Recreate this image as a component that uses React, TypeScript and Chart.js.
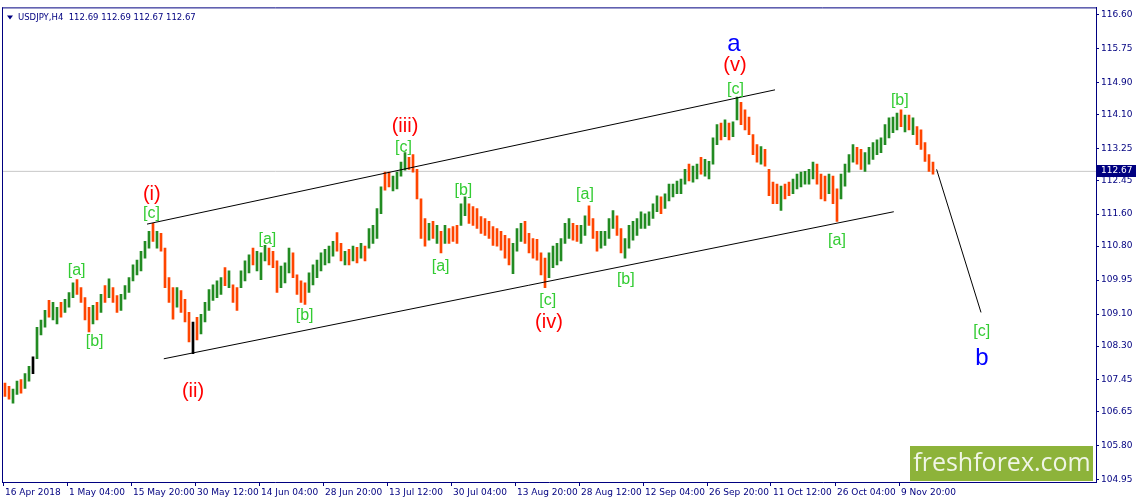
import React, { useEffect, useRef } from 'react';
import { Chart, registerables } from 'chart.js';

Chart.register(...registerables);

// ---- data -------------------------------------------------------------
const TITLE = 'USDJPY,H4  112.69 112.69 112.67 112.67';
const LAST_PRICE = 112.67;

// Each bar below aggregates 4 H4 candles
const HIGHS = [
  107.37, 107.29, 107.22, 107.42, 107.46, 107.61, 107.79, 108.03, 108.77, 108.95,
  109.19, 109.44, 109.39, 109.27, 109.39, 109.47, 109.64, 109.88, 109.96, 109.76,
  109.51, 109.27, 109.32, 109.39, 109.59, 109.81, 109.98, 109.76, 109.56, 109.59,
  109.81, 110.01, 110.33, 110.45, 110.67, 110.92, 111.17, 111.37, 111.17, 111.12,
  110.75, 110.01, 109.76, 109.76, 109.69, 109.47, 109.14, 108.90, 109.02, 109.09,
  109.39, 109.71, 109.83, 109.93, 110.01, 110.26, 110.18, 109.83, 109.76, 110.18,
  110.43, 110.58, 110.75, 110.67, 110.63, 110.82, 110.75, 110.67, 110.43, 110.30,
  110.38, 110.75, 110.63, 110.08, 109.93, 109.88, 110.13, 110.33, 110.45, 110.63,
  110.72, 110.80, 110.92, 111.14, 110.87, 110.67, 110.72, 110.80, 110.77, 110.87,
  110.80, 111.24, 111.32, 111.74, 112.28, 112.65, 112.65, 112.55, 112.65, 112.90,
  113.14, 113.02, 113.09, 112.72, 111.98, 111.49, 111.37, 111.42, 111.32, 111.17,
  111.32, 111.24, 111.29, 111.32, 111.86, 112.03, 111.86, 111.79, 111.74, 111.54,
  111.49, 111.42, 111.29, 111.24, 111.17, 111.07, 110.99, 110.87, 111.24, 111.37,
  111.42, 111.12, 110.99, 110.97, 110.63, 110.50, 110.63, 110.80, 110.87, 110.99,
  111.37, 111.49, 111.37, 111.32, 111.32, 111.56, 111.81, 111.49, 111.17, 111.17,
  111.17, 111.49, 111.69, 111.56, 111.24, 110.99, 111.32, 111.42, 111.49, 111.66,
  111.61, 111.66, 111.86, 112.06, 112.03, 112.11, 112.35, 112.35, 112.43, 112.48,
  112.72, 112.85, 112.80, 112.85, 113.02, 112.97, 112.92, 113.51, 113.84, 113.88,
  113.96, 113.88, 113.91, 114.53, 114.40, 114.21, 114.03, 113.59, 113.34, 113.29,
  113.22, 112.72, 112.40, 112.35, 112.30, 112.35, 112.40, 112.48, 112.60, 112.65,
  112.67, 112.72, 112.90, 112.85, 112.60, 112.55, 112.60, 112.55, 112.23, 112.60,
  112.85, 113.09, 113.34, 113.27, 113.22, 113.14, 113.27, 113.39, 113.46, 113.51,
  113.84, 114.01, 114.03, 114.13, 114.21, 114.08, 114.08, 114.01, 113.79, 113.71,
  113.39, 113.09, 112.90,
];

const LOWS = [
  107.04, 106.97, 106.87, 107.09, 107.12, 107.24, 107.42, 107.61, 107.98, 108.58,
  108.77, 109.02, 108.95, 108.85, 109.02, 109.14, 109.27, 109.51, 109.59, 109.39,
  108.95, 108.65, 108.85, 108.95, 109.14, 109.39, 109.51, 109.39, 109.14, 109.19,
  109.47, 109.64, 109.93, 110.08, 110.18, 110.50, 110.75, 110.92, 110.75, 110.67,
  109.76, 109.39, 108.97, 109.27, 109.14, 108.90, 108.40, 108.11, 108.45, 108.60,
  108.90, 109.19, 109.44, 109.51, 109.59, 109.81, 109.76, 109.39, 109.19, 109.76,
  109.93, 110.13, 110.33, 110.18, 109.96, 110.43, 110.33, 110.26, 109.64, 109.76,
  109.88, 110.13, 110.01, 109.59, 109.39, 109.34, 109.64, 109.83, 110.01, 110.18,
  110.33, 110.38, 110.55, 110.67, 110.43, 110.33, 110.33, 110.43, 110.38, 110.50,
  110.43, 110.75, 110.87, 110.99, 111.61, 112.20, 112.28, 112.18, 112.23, 112.55,
  112.70, 112.72, 112.65, 111.98, 110.99, 110.80, 110.95, 110.99, 110.87, 110.63,
  110.87, 110.87, 110.92, 110.87, 111.32, 111.56, 111.37, 111.32, 111.24, 111.12,
  111.07, 110.99, 110.82, 110.80, 110.70, 110.50, 110.33, 110.11, 110.67, 110.92,
  110.87, 110.63, 110.50, 110.45, 110.08, 109.76, 110.01, 110.26, 110.33, 110.43,
  110.87, 110.99, 110.95, 110.92, 110.87, 111.07, 111.32, 110.99, 110.67, 110.75,
  110.82, 110.99, 111.24, 111.07, 110.63, 110.50, 110.75, 110.95, 111.07, 111.24,
  111.24, 111.32, 111.49, 111.66, 111.61, 111.74, 111.93, 112.03, 112.11, 112.11,
  112.35, 112.43, 112.40, 112.48, 112.60, 112.55, 112.48, 112.85, 113.34, 113.46,
  113.54, 113.46, 113.54, 113.96, 113.84, 113.71, 113.59, 113.09, 112.90, 112.85,
  112.80, 112.06, 111.86, 111.86, 111.69, 111.98, 112.06, 112.11, 112.23, 112.28,
  112.35, 112.35, 112.48, 112.35, 111.98, 111.93, 112.11, 111.86, 111.42, 111.98,
  112.30, 112.65, 112.90, 112.85, 112.72, 112.67, 112.85, 112.97, 113.09, 113.14,
  113.34, 113.51, 113.64, 113.71, 113.79, 113.66, 113.71, 113.59, 113.34, 113.22,
  112.92, 112.67, 112.60,
];

// u = bullish, d = bearish, n = doji
const DIRECTIONS = [
  'dduuduunuu', 'uduuduuudd', 'ddudududdu', 'uuuuuuudud', 'dddudddndu',
  'uuuuududdu', 'uuduuudddu', 'uudddduuuu', 'uuuddududu', 'duuuudduuu',
  'udddddudud', 'uddduudddd', 'ddddddduuu', 'dddddduuuu', 'uudduudddu',
  'uuudduuuuu', 'uuuuduuuuu', 'uduuduuuud', 'uduudddddu', 'ddddudduuu',
  'uuuddduddu', 'uuudduuuuu', 'uuuudududd', 'ddd',
].join('');

const Y_TICKS = [116.6, 115.75, 114.9, 114.1, 113.25, 112.45, 111.6, 110.8, 109.95, 109.1, 108.3, 107.45, 106.65, 105.8, 104.95];

const X_LABELS = [
  '16 Apr 2018', '1 May 04:00', '15 May 20:00', '30 May 12:00', '14 Jun 04:00',
  '28 Jun 20:00', '13 Jul 12:00', '30 Jul 04:00', '13 Aug 20:00', '28 Aug 12:00',
  '12 Sep 04:00', '26 Sep 20:00', '11 Oct 12:00', '26 Oct 04:00', '9 Nov 20:00',
];
const H4_PER_BAR = 4;
const H4_PER_LABEL = 64;

// trend lines: x = bar index, y = price
const UPPER_CHANNEL = [{ x: 35.5, y: 111.35 }, { x: 192.5, y: 114.71 }];
const LOWER_CHANNEL = [{ x: 39.7, y: 107.98 }, { x: 222.2, y: 111.66 }];
const PROJECTION = [{ x: 232.9, y: 112.72 }, { x: 244.0, y: 109.14 }];

// wave labels: bar index, price
const GREEN_LABELS = [
  { t: '[a]', i: 17.9, p: 110.18 }, { t: '[b]', i: 22.4, p: 108.40 }, { t: '[c]', i: 36.6, p: 111.61 },
  { t: '[a]', i: 65.6, p: 110.97 }, { t: '[b]', i: 74.9, p: 109.07 }, { t: '[c]', i: 99.6, p: 113.27 },
  { t: '[a]', i: 108.9, p: 110.28 }, { t: '[b]', i: 114.6, p: 112.20 }, { t: '[c]', i: 135.7, p: 109.44 },
  { t: '[a]', i: 145.0, p: 112.08 }, { t: '[b]', i: 155.2, p: 109.96 }, { t: '[c]', i: 182.6, p: 114.72 },
  { t: '[a]', i: 208.0, p: 110.95 }, { t: '[b]', i: 223.7, p: 114.45 }, { t: '[c]', i: 244.2, p: 108.65 },
];
const RED_LABELS = [
  { t: '(i)', i: 36.7, p: 112.08 }, { t: '(ii)', i: 47.0, p: 107.17 }, { t: '(iii)', i: 100.0, p: 113.79 },
  { t: '(iv)', i: 136.0, p: 108.90 }, { t: '(v)', i: 182.5, p: 115.32 },
];
const BLUE_LABELS = [
  { t: 'a', i: 182.2, p: 115.86 }, { t: 'b', i: 244.2, p: 107.98 },
];

// ---- view -------------------------------------------------------------
const X_MIN = -0.75;
const X_MAX = 272.75;
const Y_MIN = 104.897;
const Y_MAX = 116.773;
const NAVY = '#000080';
const DIR_COLORS: Record<string, string> = { u: '#228B22', d: '#FF4500', n: '#000000' };

const overlay = {
  id: 'mt4Overlay',
  afterDatasetsDraw(chart: any) {
    const { ctx, scales } = chart;
    const xs = scales.x;
    const ys = scales.y;
    ctx.save();
    ctx.textAlign = 'center';
    ctx.textBaseline = 'middle';
    const put = (list: { t: string; i: number; p: number }[], font: string, color: string) => {
      ctx.font = font;
      ctx.fillStyle = color;
      for (const l of list) ctx.fillText(l.t, xs.getPixelForValue(l.i), ys.getPixelForValue(l.p));
    };
    put(GREEN_LABELS, '16px "Liberation Sans", Arial, sans-serif', '#33CC33');
    put(RED_LABELS, '20px "Liberation Sans", Arial, sans-serif', '#FF0000');
    put(BLUE_LABELS, '24px "Liberation Sans", Arial, sans-serif', '#0000FF');
    ctx.restore();
  },
  afterDraw(chart: any) {
    const { ctx, chartArea, scales } = chart;
    const ys = scales.y;
    ctx.save();
    // frame (left and top)
    ctx.strokeStyle = NAVY;
    ctx.lineWidth = 1;
    ctx.beginPath();
    ctx.moveTo(chartArea.left + 0.5, chartArea.top);
    ctx.lineTo(chartArea.left + 0.5, chartArea.bottom);
    ctx.moveTo(chartArea.left, chartArea.top + 0.5);
    ctx.lineTo(chartArea.right, chartArea.top + 0.5);
    ctx.stroke();

    // title
    ctx.fillStyle = NAVY;
    ctx.beginPath();
    ctx.moveTo(chartArea.left + 5, chartArea.top + 8);
    ctx.lineTo(chartArea.left + 11, chartArea.top + 8);
    ctx.lineTo(chartArea.left + 8, chartArea.top + 12);
    ctx.closePath();
    ctx.fill();
    ctx.font = '8.5px "DejaVu Sans", Tahoma, sans-serif';
    ctx.textAlign = 'left';
    ctx.textBaseline = 'middle';
    ctx.fillText(TITLE, chartArea.left + 16, chartArea.top + 10);

    // last price box
    const py = Math.round(ys.getPixelForValue(LAST_PRICE));
    ctx.fillStyle = NAVY;
    ctx.fillRect(chartArea.right + 1, py - 6, 40, 12);
    ctx.fillStyle = '#FFFFFF';
    ctx.font = '9px "DejaVu Sans", Tahoma, sans-serif';
    ctx.fillText(LAST_PRICE.toFixed(2), chartArea.right + 5, py);

    // watermark
    ctx.fillStyle = '#8DB33A';
    ctx.fillRect(chartArea.right - 186, chartArea.bottom - 36, 183, 35);
    ctx.fillStyle = '#F0F5E6';
    ctx.font = '25px "Open Sans", "DejaVu Sans", sans-serif';
    ctx.textAlign = 'center';
    ctx.fillText('freshforex.com', chartArea.right - 94, chartArea.bottom - 18);
    ctx.restore();
  },
};

export default function App() {
  const ref = useRef<HTMLCanvasElement | null>(null);

  useEffect(() => {
    document.body.style.margin = '0';
    const canvas = ref.current;
    if (!canvas) return;

    const bars = HIGHS.map((h, i) => ({ x: i, y: [LOWS[i], h] }));
    const colors = HIGHS.map((_, i) => DIR_COLORS[DIRECTIONS[i]] || DIR_COLORS.u);
    const lineStyle = { type: 'line' as const, borderColor: '#000000', borderWidth: 1, pointRadius: 0, order: 0, fill: false };

    const chart = new Chart(canvas, {
      type: 'bar',
      data: {
        datasets: [
          {
            type: 'line',
            data: [{ x: X_MIN, y: LAST_PRICE }, { x: X_MAX, y: LAST_PRICE }],
            borderColor: '#C8C8C8',
            borderWidth: 1,
            pointRadius: 0,
            order: 3,
          } as any,
          {
            type: 'bar',
            data: bars as any,
            backgroundColor: colors,
            borderWidth: 0,
            barThickness: 2,
            order: 2,
          } as any,
          { ...lineStyle, data: UPPER_CHANNEL } as any,
          { ...lineStyle, data: LOWER_CHANNEL } as any,
          { ...lineStyle, data: PROJECTION } as any,
        ],
      },
      options: {
        responsive: false,
        animation: false,
        events: [],
        layout: { padding: { left: 2, top: 1, right: 0, bottom: 0 } },
        plugins: { legend: { display: false }, tooltip: { enabled: false } },
        scales: {
          x: {
            type: 'linear',
            position: 'bottom',
            min: X_MIN,
            max: X_MAX,
            offset: false,
            afterBuildTicks: (scale: any) => {
              const step = H4_PER_LABEL / H4_PER_BAR;
              scale.ticks = X_LABELS.map((_, k) => ({ value: -0.5 + k * step }));
            },
            afterFit: (scale: any) => {
              scale.height = 21;
            },
            grid: { drawOnChartArea: false, offset: false, tickLength: 4, color: NAVY },
            border: { color: NAVY },
            ticks: {
              autoSkip: false,
              maxRotation: 0,
              minRotation: 0,
              align: 'start',
              labelOffset: 2,
              padding: 1,
              color: NAVY,
              font: { family: '"DejaVu Sans", Tahoma, sans-serif', size: 9 },
              callback: (_v: any, index: number) => X_LABELS[index],
            },
          },
          y: {
            type: 'linear',
            position: 'right',
            min: Y_MIN,
            max: Y_MAX,
            afterBuildTicks: (scale: any) => {
              scale.ticks = Y_TICKS.map((v) => ({ value: v }));
            },
            afterFit: (scale: any) => {
              scale.width = 40;
            },
            grid: { drawOnChartArea: false, tickLength: 3, color: NAVY },
            border: { color: NAVY },
            ticks: {
              padding: 2,
              color: NAVY,
              font: { family: '"DejaVu Sans", Tahoma, sans-serif', size: 9 },
              callback: (v: any) => Number(v).toFixed(2),
            },
          },
        },
      } as any,
      plugins: [overlay],
    });

    return () => chart.destroy();
  }, []);

  return (
    <div style={{ position: 'absolute', left: 0, top: 0, width: 1136, height: 503, background: '#FFFFFF' }}>
      <canvas ref={ref} width={1136} height={503} style={{ display: 'block' }} />
    </div>
  );
}
